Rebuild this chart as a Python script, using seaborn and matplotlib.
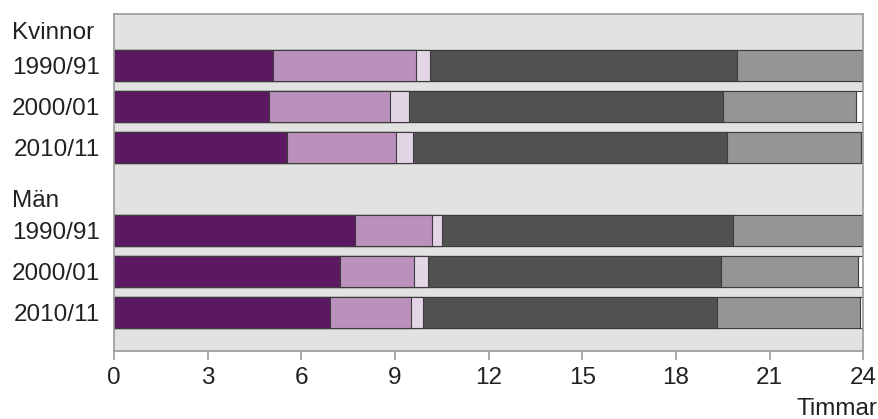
import numpy as np
import pandas as pd
import seaborn as sns
import matplotlib.pyplot as plt
from matplotlib.transforms import blended_transform_factory

# Data (hours per day)
rows = ["K 1990/91", "K 2000/01", "K 2010/11", "M 1990/91", "M 2000/01", "M 2010/11"]
year_labels = ["1990/91", "2000/01", "2010/11", "1990/91", "2000/01", "2010/11"]
row_pos = [0, 1, 2, 4, 5, 6]
groups = ["Kvinnor", "Män"]
group_pos = [-0.8, 3.3]

seg1 = [5.10, 4.97, 5.55, 7.72, 7.23, 6.91]
seg2 = [4.57, 3.87, 3.48, 2.47, 2.39, 2.60]
seg3 = [0.45, 0.62, 0.55, 0.30, 0.42, 0.39]
seg4 = [9.83, 10.04, 10.05, 9.33, 9.39, 9.41]
seg5 = [4.00, 4.27, 4.30, 4.13, 4.42, 4.59]
seg6 = [0.05, 0.23, 0.07, 0.05, 0.15, 0.10]

segments = [seg1, seg2, seg3, seg4, seg5, seg6]
colors = ["#5c1862", "#b991bc", "#e3d5e6", "#515151", "#959595", "#ffffff"]

xticks = [0, 3, 6, 9, 12, 15, 18, 21, 24]

sns.set_theme(style="white")
plt.rcParams['font.family'] = ['Liberation Sans', 'DejaVu Sans']

fig = plt.figure(figsize=(8.79, 4.19), dpi=100)
ax = fig.add_axes([0.130, 0.1623, 0.852, 0.8043])
ax.set_facecolor("#e2e2e2")

# cumulative ends; draw longest first so shorter ones overlay
ends = np.cumsum(np.array(segments), axis=0)
df = pd.DataFrame({"pos": row_pos})
for i in range(len(segments) - 1, -1, -1):
    df["end"] = ends[i]
    sns.barplot(data=df, x="end", y="pos", orient="h", native_scale=True,
                color=colors[i], saturation=1, width=0.75,
                edgecolor="#3c3c3c", linewidth=0.8, ax=ax)

ax.set_xlim(0, 24)
ax.set_ylim(6.93, -1.25)
ax.set_xticks(xticks)
ax.set_xticklabels([str(t) for t in xticks], fontsize=17.5, color="#222222")
ax.set_yticks(row_pos)
ax.set_yticklabels(year_labels, fontsize=17.5, color="#222222")
ax.tick_params(axis="y", length=0, pad=10)
ax.tick_params(axis="x", direction="out", length=6.5, width=1.2, color="#999999",
               pad=5, bottom=True)
ax.set_xlabel("")
ax.set_ylabel("")
for s in ax.spines.values():
    s.set_color("#999999")
    s.set_linewidth(1.2)

tr = blended_transform_factory(fig.transFigure, ax.transData)
for g, p in zip(groups, group_pos):
    ax.text(12 / 879, p, g, transform=tr, ha="left", va="center",
            fontsize=17.5, color="#222222")

fig.text(877 / 879, 0.024, "Timmar", ha="right", va="center",
         fontsize=17.5, color="#222222")

fig.savefig("out.png", dpi=100)
